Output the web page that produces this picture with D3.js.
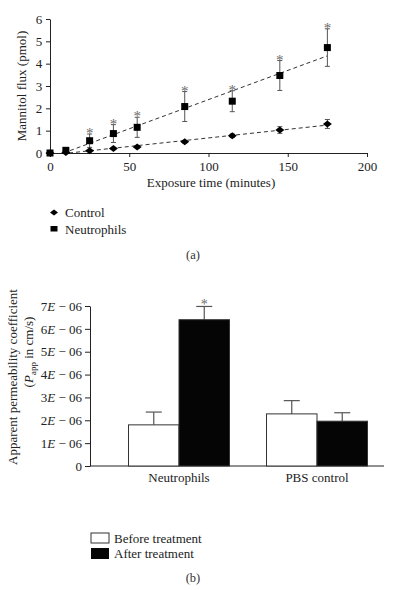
<!DOCTYPE html>
<html><head><meta charset="utf-8">
<script src="https://cdn.jsdelivr.net/npm/d3@7"></script>
<style>
body{margin:0;background:#fff;}
svg{display:block;font-family:"Liberation Serif","DejaVu Serif",serif;}
svg text{font-family:"Liberation Serif","DejaVu Serif",serif;}
</style></head>
<body><svg id="c" width="401" height="590"></svg>
<script>
// ---- Panel (a) data ----
const times = [0, 10, 25, 40, 55, 85, 115, 145, 175];
const controlMean = [0, 0.02, 0.1, 0.2, 0.27, 0.5, 0.77, 1.03, 1.3];
const controlErr = [0, 0, 0, 0.03, 0.03, 0.05, 0.08, 0.15, 0.2];
const neutroMean = [0, 0.12, 0.55, 0.87, 1.15, 2.08, 2.32, 3.47, 4.72];
const neutroErr = [0, 0, 0.3, 0.4, 0.45, 0.67, 0.47, 0.67, 0.84];
const neutroSig = [false, false, true, true, true, true, true, true, true];
const neutroTrend = [[8.5, 0], [175, 4.35]];
const controlTrend = [[12, 0], [175, 1.25]];
const xTicksA = [0, 50, 100, 150, 200];
const yTicksA = [0, 1, 2, 3, 4, 5, 6];
const seriesA = ["Control", "Neutrophils"];

// ---- Panel (b) data ----
const groups = ["Neutrophils", "PBS control"];
const treatments = ["Before treatment", "After treatment"];
const beforeVals = [1.8e-6, 2.28e-6];
const beforeErr = [0.56e-6, 0.58e-6];
const afterVals = [6.4e-6, 1.96e-6];
const afterErr = [0.58e-6, 0.37e-6];
const afterSig = [true, false];
const yTicksB = [0, 1e-6, 2e-6, 3e-6, 4e-6, 5e-6, 6e-6, 7e-6];
const yTickLabelsB = ["0", "1", "2", "3", "4", "5", "6", "7"];

const svg = d3.select("#c");
const dark = "#222", grey = "#555";
const FONT = "Liberation Serif";

// ================= Panel (a) =================
const xA = d3.scaleLinear().domain([0, 200]).range([50, 367]);
const yA = d3.scaleLinear().domain([0, 6]).range([153, 19]);

const gxA = svg.append("g").attr("transform", `translate(0,${yA(0)})`)
  .call(d3.axisBottom(xA).tickValues(xTicksA).tickSize(4).tickSizeOuter(0).tickFormat(d3.format("d")));
const gyA = svg.append("g").attr("transform", `translate(${xA(0)},0)`)
  .call(d3.axisLeft(yA).tickValues(yTicksA).tickSize(4).tickSizeOuter(0).tickFormat(d3.format("d")));
[gxA, gyA].forEach(g => {
  g.attr("font-family", FONT).attr("font-size", 13);
  g.select(".domain").attr("stroke", dark);
  g.selectAll(".tick line").attr("stroke", dark);
  g.selectAll(".tick text").attr("fill", "#222");
});
gxA.selectAll(".tick text").attr("dy", "0.85em");
gyA.selectAll(".tick text").attr("dx", "-0.05em");

svg.append("text").attr("x", 211).attr("y", 187).attr("text-anchor", "middle")
  .attr("font-size", 13).attr("fill", "#222").text("Exposure time (minutes)");
svg.append("text").attr("transform", "translate(26,86) rotate(-90)").attr("text-anchor", "middle")
  .attr("font-size", 13).attr("fill", "#222").text("Mannitol flux (pmol)");

// trend lines
const line = d3.line().x(d => xA(d[0])).y(d => yA(d[1]));
[neutroTrend, controlTrend].forEach(t => {
  svg.append("path").attr("d", line(t)).attr("fill", "none").attr("stroke", "#333")
    .attr("stroke-width", 1).attr("stroke-dasharray", "4,3");
});

// error bars
function errBars(means, errs, cap) {
  times.forEach((t, i) => {
    if (errs[i] <= 0) return;
    const x = xA(t), y1 = yA(means[i] + errs[i]), y2 = yA(means[i] - errs[i]);
    svg.append("line").attr("x1", x).attr("x2", x).attr("y1", y1).attr("y2", y2).attr("stroke", grey);
    svg.append("line").attr("x1", x - cap).attr("x2", x + cap).attr("y1", y1).attr("y2", y1).attr("stroke", grey);
    svg.append("line").attr("x1", x - cap).attr("x2", x + cap).attr("y1", y2).attr("y2", y2).attr("stroke", grey);
  });
}
errBars(neutroMean, neutroErr, 2.5);
errBars(controlMean, controlErr, 2.5);

const diamond = (cx, cy, w, h) => `M${cx - w},${cy}L${cx},${cy - h}L${cx + w},${cy}L${cx},${cy + h}Z`;
times.forEach((t, i) => {
  svg.append("path").attr("d", diamond(xA(t), yA(controlMean[i]), 4.5, 3.5)).attr("fill", "#000");
});
times.forEach((t, i) => {
  svg.append("rect").attr("x", xA(t) - 3.5).attr("y", yA(neutroMean[i]) - 3.5)
    .attr("width", 7).attr("height", 7).attr("fill", "#000");
  if (neutroSig[i]) {
    svg.append("text").attr("x", xA(t)).attr("y", yA(neutroMean[i] + neutroErr[i]) + 4)
      .attr("text-anchor", "middle").attr("font-size", 15).attr("fill", "#6a6a6a").text("*");
  }
});

// legend (a)
svg.append("path").attr("d", diamond(54, 212.5, 4, 3)).attr("fill", "#000");
svg.append("rect").attr("x", 50.5).attr("y", 226).attr("width", 7).attr("height", 5.5).attr("fill", "#000");
svg.append("text").attr("x", 65).attr("y", 217).attr("font-size", 13).attr("fill", "#222").text(seriesA[0]);
svg.append("text").attr("x", 65).attr("y", 233.5).attr("font-size", 13).attr("fill", "#222").text(seriesA[1]);
svg.append("text").attr("x", 193).attr("y", 259).attr("text-anchor", "middle").attr("font-size", 12.5).attr("fill", "#333").text("(a)");

// ================= Panel (b) =================
const yB = d3.scaleLinear().domain([0, 7e-6]).range([466, 306]);
const xB = d3.scaleBand().domain(groups).range([110, 386]).padding(0);
const xSub = d3.scaleBand().domain(treatments).range([xB.bandwidth() / 2 - 50.5, xB.bandwidth() / 2 + 50.5]).padding(0);

const gyB = svg.append("g").attr("transform", "translate(90,0)")
  .call(d3.axisLeft(yB).tickValues(yTicksB).tickSize(5).tickSizeOuter(0).tickFormat(() => ""));
gyB.attr("font-family", FONT).attr("font-size", 13);
gyB.select(".domain").attr("stroke", dark);
gyB.selectAll(".tick line").attr("stroke", dark);
gyB.selectAll(".tick text").each(function(d, i) {
  const t = d3.select(this).attr("fill", "#222").attr("x", -8);
  t.append("tspan").text(yTickLabelsB[i]);
  if (i === 0) return;
  t.append("tspan").attr("font-style", "italic").text("E");
  t.append("tspan").text(" \u2212 06");
});
svg.append("line").attr("x1", 90).attr("x2", 384).attr("y1", yB(0)).attr("y2", yB(0)).attr("stroke", dark);

// y label (b)
svg.append("text").attr("transform", "translate(17,377) rotate(-90)").attr("text-anchor", "middle")
  .attr("font-size", 13).attr("fill", "#222").text("Apparent permeability coefficient");
const l2 = svg.append("text").attr("transform", "translate(33,352) rotate(-90)").attr("text-anchor", "middle")
  .attr("font-size", 13).attr("fill", "#222");
l2.append("tspan").text("(");
l2.append("tspan").attr("font-style", "italic").text("P");
l2.append("tspan").attr("font-size", 9).attr("dy", 3).text("app");
l2.append("tspan").attr("dy", -3).text(" in cm/s)");

// bars
const barData = [];
groups.forEach((g, i) => {
  barData.push({ g, t: treatments[0], v: beforeVals[i], e: beforeErr[i], sig: false });
  barData.push({ g, t: treatments[1], v: afterVals[i], e: afterErr[i], sig: afterSig[i] });
});
barData.forEach(d => {
  const x0 = xB(d.g) + xSub(d.t), w = xSub.bandwidth();
  const cx = x0 + w / 2;
  svg.append("line").attr("x1", cx).attr("x2", cx).attr("y1", yB(d.v)).attr("y2", yB(d.v + d.e)).attr("stroke", grey).attr("stroke-width", 1.2);
  svg.append("line").attr("x1", cx - 8).attr("x2", cx + 8).attr("y1", yB(d.v + d.e)).attr("y2", yB(d.v + d.e)).attr("stroke", grey).attr("stroke-width", 1.2);
  svg.append("rect").attr("x", x0).attr("y", yB(d.v)).attr("width", w).attr("height", yB(0) - yB(d.v))
    .attr("fill", d.t === treatments[0] ? "#fff" : "#050505").attr("stroke", "#333").attr("stroke-width", 1);
  if (d.sig) {
    svg.append("text").attr("x", cx).attr("y", yB(d.v + d.e) + 3).attr("text-anchor", "middle")
      .attr("font-size", 14).attr("fill", "#6a6a6a").text("*");
  }
});
groups.forEach(g => {
  svg.append("text").attr("x", xB(g) + xB.bandwidth() / 2).attr("y", 482).attr("text-anchor", "middle")
    .attr("font-size", 13).attr("fill", "#222").text(g);
});

// legend (b)
svg.append("rect").attr("x", 91).attr("y", 533).attr("width", 18).attr("height", 10).attr("fill", "#fff").attr("stroke", "#333");
svg.append("rect").attr("x", 91).attr("y", 548).attr("width", 18).attr("height", 11).attr("fill", "#050505");
svg.append("text").attr("x", 114).attr("y", 543).attr("font-size", 13).attr("fill", "#222").text(treatments[0]);
svg.append("text").attr("x", 114).attr("y", 558).attr("font-size", 13).attr("fill", "#222").text(treatments[1]);
svg.append("text").attr("x", 193).attr("y", 582).attr("text-anchor", "middle").attr("font-size", 12.5).attr("fill", "#333").text("(b)");
</script></body></html>
